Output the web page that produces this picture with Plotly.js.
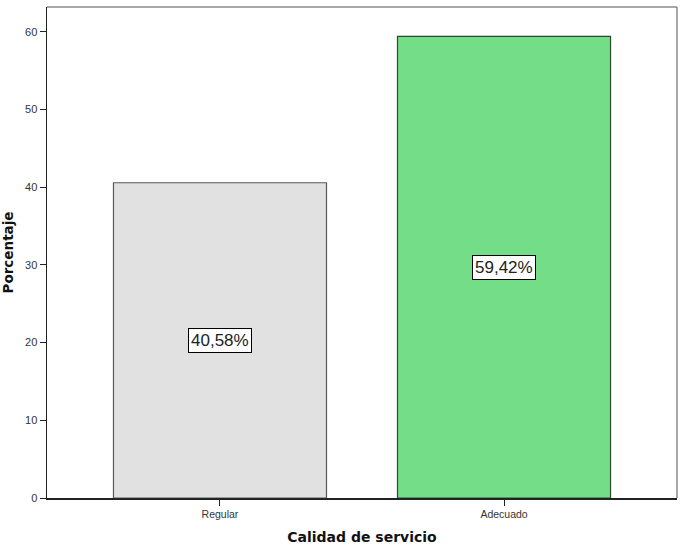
<!DOCTYPE html>
<html><head><meta charset="utf-8">
<script src="https://cdn.plot.ly/plotly-3.0.1.min.js"></script>
<style>html,body{margin:0;padding:0;background:#fff}#chart{width:690px;height:549px}</style>
</head><body><div id="chart"></div>
<script>
const categories = ["Regular", "Adecuado"];
const percentages = [40.58, 59.42];
const barColors = ["#e1e1e1", "#74dd87"];
const barLines = ["#5a5a5a", "#2c4a30"];
const yTicks = [0, 10, 20, 30, 40, 50, 60];

const fmt = v => v.toFixed(2).replace('.', ',') + '%';

const trace = {
  type: 'bar', x: categories, y: percentages, width: 0.75,
  marker: {color: barColors, line: {color: barLines, width: 1.2}},
  hoverinfo: 'none'
};

const annotations = categories.map((c, i) => ({
  x: c, y: percentages[i] / 2, xref: 'x', yref: 'y', text: fmt(percentages[i]),
  showarrow: false, bgcolor: '#ffffff', bordercolor: '#000000', borderwidth: 1, borderpad: 2,
  font: {family: 'Liberation Sans, Arial, sans-serif', size: 17, color: '#222'}
}));

const layout = {
  width: 690, height: 549,
  margin: {l: 47, r: 13, t: 7, b: 51},
  paper_bgcolor: '#fff', plot_bgcolor: '#fff',
  showlegend: false, bargap: 0.25,
  font: {family: 'Liberation Sans, Arial, sans-serif', color: '#333'},
  xaxis: {
    range: [-0.609, 1.609], showgrid: false, zeroline: false,
    showline: true, linecolor: '#222', linewidth: 1.5,
    ticks: 'outside', ticklen: 6, tickcolor: '#222', tickwidth: 1,
    tickfont: {size: 10.5, color: '#333'},
    title: {text: 'Calidad de servicio', font: {size: 14, color: '#111', family: 'DejaVu Sans, sans-serif', weight: 'bold'}, standoff: 13}
  },
  yaxis: {
    range: [0, 63.2], tickvals: yTicks, showgrid: false, zeroline: false,
    showline: true, linecolor: '#222', linewidth: 1.5,
    ticks: 'outside', ticklen: 6, tickcolor: '#222', tickwidth: 1,
    tickfont: {size: 11, color: '#333'},
    title: {text: 'Porcentaje', font: {size: 13.5, color: '#111', family: 'DejaVu Sans, sans-serif', weight: 'bold'}, standoff: 9}
  },
  shapes: [
    {type: 'line', xref: 'paper', yref: 'paper', x0: 0, x1: 1, y0: 1, y1: 1, line: {color: '#8a8a8a', width: 1.5}},
    {type: 'line', xref: 'paper', yref: 'paper', x0: 1, x1: 1, y0: 0, y1: 1, line: {color: '#8a8a8a', width: 1.5}}
  ],
  annotations: annotations
};

Plotly.newPlot('chart', [trace], layout, {displayModeBar: false, staticPlot: true});
</script></body></html>
